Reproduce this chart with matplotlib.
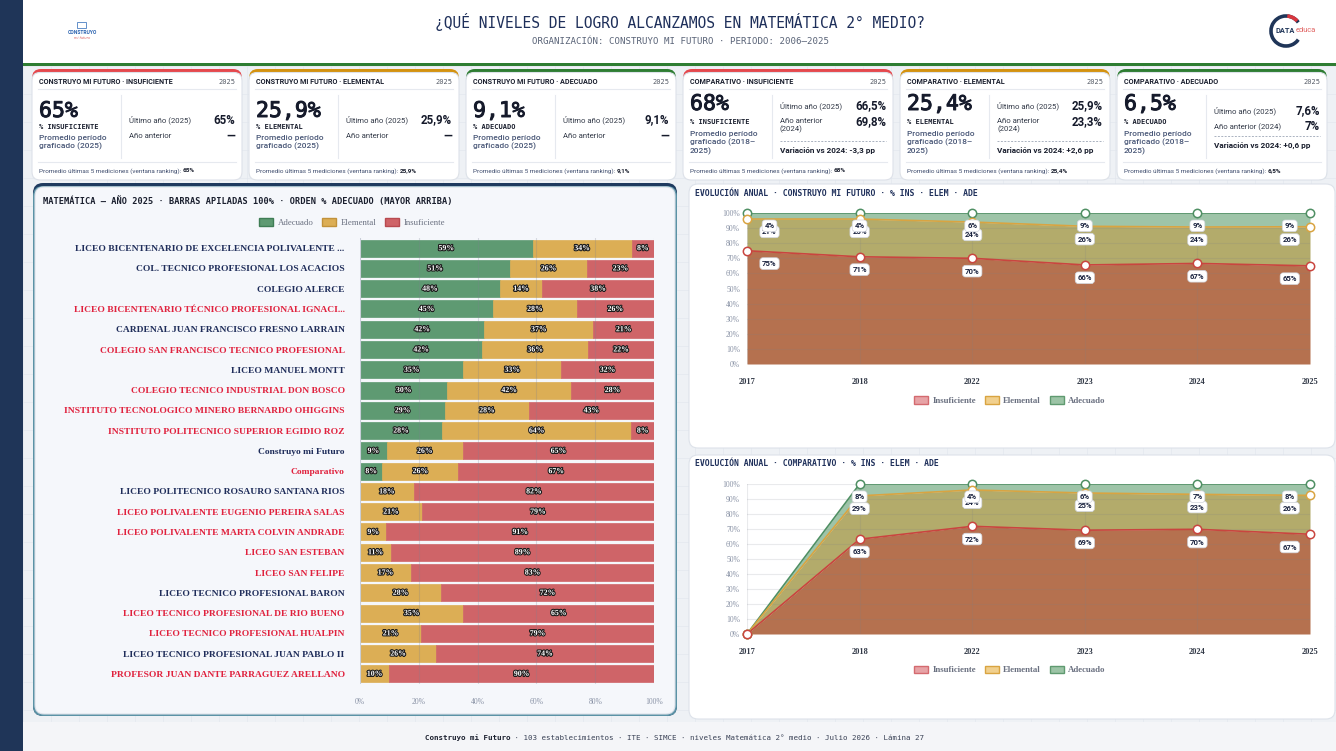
import matplotlib
matplotlib.use('Agg')
import matplotlib.pyplot as plt
from matplotlib.patches import FancyBboxPatch, Rectangle, Patch, Arc
import matplotlib.patheffects as pe
import numpy as np

W, H = 1336, 751

# ---------------- data ----------------
schools = [
    'LICEO BICENTENARIO DE EXCELENCIA POLIVALENTE ...',
    'COL. TECNICO PROFESIONAL LOS ACACIOS',
    'COLEGIO ALERCE',
    'LICEO BICENTENARIO TÉCNICO PROFESIONAL IGNACI...',
    'CARDENAL JUAN FRANCISCO FRESNO LARRAIN',
    'COLEGIO SAN FRANCISCO TECNICO PROFESIONAL',
    'LICEO MANUEL MONTT',
    'COLEGIO TECNICO INDUSTRIAL DON BOSCO',
    'INSTITUTO TECNOLOGICO MINERO BERNARDO OHIGGINS',
    'INSTITUTO POLITECNICO SUPERIOR EGIDIO ROZ',
    'Construyo mi Futuro',
    'Comparativo',
    'LICEO POLITECNICO ROSAURO SANTANA RIOS',
    'LICEO POLIVALENTE EUGENIO PEREIRA SALAS',
    'LICEO POLIVALENTE MARTA COLVIN ANDRADE',
    'LICEO SAN ESTEBAN',
    'LICEO SAN FELIPE',
    'LICEO TECNICO PROFESIONAL BARON',
    'LICEO TECNICO PROFESIONAL DE RIO BUENO',
    'LICEO TECNICO PROFESIONAL HUALPIN',
    'LICEO TECNICO PROFESIONAL JUAN PABLO II',
    'PROFESOR JUAN DANTE PARRAGUEZ ARELLANO',
]
school_red = [0, 0, 0, 1, 0, 1, 0, 1, 1, 1, 0, 1, 0, 1, 1, 1, 1, 0, 1, 1, 0, 1]
bar_ade = [58.7, 51.1, 47.6, 45.3, 42.3, 41.6, 35.2, 29.7, 29.0, 27.9, 9.1, 7.6,
           0, 0, 0, 0, 0, 0, 0, 0, 0, 0]
bar_elem = [33.7, 26.1, 14.4, 28.4, 37.1, 36.0, 33.2, 42.1, 28.4, 64.4, 25.9, 25.9,
            18.3, 21.1, 9.0, 10.6, 17.4, 27.6, 35.2, 20.8, 25.9, 9.9]
bar_ins = [7.6, 22.8, 38.0, 26.3, 20.6, 22.4, 31.6, 28.2, 42.6, 7.7, 65.0, 66.5,
           81.7, 78.9, 91.0, 89.4, 82.6, 72.4, 64.8, 79.2, 74.1, 90.1]

years = ['2017', '2018', '2022', '2023', '2024', '2025']
cmf_ins = [75.0, 71.0, 70.0, 65.6, 66.6, 65.0]
cmf_elem = [21.0, 25.0, 24.0, 25.6, 24.1, 25.9]
cmf_ade = [4.0, 4.0, 6.0, 8.8, 9.3, 9.1]
cmp_ins = [0.0, 63.2, 71.8, 69.2, 69.8, 66.5]
cmp_elem = [0.0, 28.9, 24.2, 24.8, 23.3, 25.9]
cmp_ade = [0.0, 7.9, 4.0, 6.0, 6.9, 7.6]

card_titles = ['CONSTRUYO MI FUTURO · INSUFICIENTE', 'CONSTRUYO MI FUTURO · ELEMENTAL',
               'CONSTRUYO MI FUTURO · ADECUADO', 'COMPARATIVO · INSUFICIENTE',
               'COMPARATIVO · ELEMENTAL', 'COMPARATIVO · ADECUADO']
card_big = ['65%', '25,9%', '9,1%', '68%', '25,4%', '6,5%']
card_level = ['% INSUFICIENTE', '% ELEMENTAL', '% ADECUADO'] * 2
card_last = ['65%', '25,9%', '9,1%', '66,5%', '25,9%', '7,6%']
card_prev = ['—', '—', '—', '69,8%', '23,3%', '7%']
card_var = ['', '', '', '-3,3 pp', '+2,6 pp', '+0,6 pp']
card_window = ['65%', '25,9%', '9,1%', '68%', '25,4%', '6,5%']
card_colors = ['#e5484d', '#d4920f', '#2e7d32'] * 2

C_ADE, C_ELEM, C_INS = '#5e9a72', '#dcae55', '#cf6468'
NAVY = '#1e2f5a'
SANS = ['Roboto', 'DejaVu Sans']
MONO = 'DejaVu Sans Mono'
SERIF = 'Liberation Serif'

fig = plt.figure(figsize=(W / 100, H / 100), dpi=100)
bg = fig.add_axes([0, 0, 1, 1])
bg.set_xlim(0, W)
bg.set_ylim(H, 0)
bg.axis('off')


def px_axes(x, y, w, h):
    return fig.add_axes([x / W, 1 - (y + h) / H, w / W, h / H])


def rbox(x, y, w, h, fc, ec='none', r=8, lw=0.8, z=1):
    bg.add_patch(FancyBboxPatch((x, y), w, h, boxstyle=f'round,pad=0,rounding_size={r}',
                                fc=fc, ec=ec, lw=lw, zorder=z))


def pct(v):
    return f'{int(v + 0.5)}%'


# ---------------- background / frame ----------------
bg.add_patch(Rectangle((0, 0), W, H, fc='#eef1f5', zorder=0))
for gx in range(23, W, 28):
    bg.plot([gx, gx], [66, H], color='#e3e7ee', lw=0.5, zorder=0.5)
for gy in range(66, H, 28):
    bg.plot([23, W], [gy, gy], color='#e3e7ee', lw=0.5, zorder=0.5)
bg.add_patch(Rectangle((0, 0), 23, H, fc='#1f3558', zorder=1))
bg.add_patch(Rectangle((23, 0), W - 23, 63, fc='white', zorder=1))
bg.add_patch(Rectangle((23, 63), W - 23, 2.5, fc='#2e7d32', zorder=1))
bg.add_patch(Rectangle((23, 722), W - 23, 29, fc='#f4f5f8', zorder=1))

bg.text(680, 22, '¿QUÉ NIVELES DE LOGRO ALCANZAMOS EN MATEMÁTICA 2° MEDIO?', family=MONO,
        fontsize=10.5, color=NAVY, ha='center', va='center', zorder=5)
bg.text(680, 42, 'ORGANIZACIÓN: CONSTRUYO MI FUTURO · PERIODO: 2006–2025', family=MONO,
        fontsize=6.6, color='#5a6478', ha='center', va='center', zorder=5)

# logos
bg.add_patch(Rectangle((77, 22), 9, 6, fc='none', ec='#4a7fc1', lw=0.6, zorder=5))
bg.text(82, 33, 'CONSTRUYO', family=SANS, fontsize=3.6, weight='bold', color='#2b63b0',
        ha='center', va='center', zorder=5)
bg.text(82, 38, 'mi futuro', family=SANS, fontsize=3, style='italic', color='#e07070',
        ha='center', va='center', zorder=5)
bg.add_patch(Arc((1286, 31), 30, 30, theta1=35, theta2=325, color='#1f3558', lw=2.6, zorder=5))
bg.add_patch(Arc((1286, 31), 30, 30, theta1=275, theta2=318, color='#d9363e', lw=2.6, zorder=6))
t = bg.text(1276, 31, 'DATA', family=SANS, fontsize=5.3, weight='bold', color='#1f3558',
            ha='left', va='center', zorder=6)
bg.annotate('educa', xy=(1, 0.5), xycoords=t, family=SANS, fontsize=5.3, color='#e0605f',
            ha='left', va='center', zorder=6)

# footer
t = bg.text(425, 738, 'Construyo mi Futuro', family=MONO, fontsize=5.4, weight='bold',
            color='#1a1f2e', va='center', zorder=5)
bg.annotate(' · 103 establecimientos · ITE · SIMCE · niveles Matemática 2° medio · Julio 2026 · Lámina 27',
            xy=(1, 0.5), xycoords=t, family=MONO, fontsize=5.4, color='#3a4256', va='center', zorder=5)

# ---------------- KPI cards ----------------
card_x = [32, 249, 466, 683, 900, 1117]
cw, cy, ch = 210, 69, 111
thick = [pe.withStroke(linewidth=0.7, foreground='#151a2b')]
for i in range(6):
    x0 = card_x[i]
    rbox(x0, cy, cw, ch, fc=card_colors[i], r=9, z=2)
    rbox(x0, cy + 3.5, cw, ch - 3.5, fc='white', ec='#dde2ea', r=8, z=3)
    bg.text(x0 + 7, 82, card_titles[i], family=SANS, fontsize=5.2, weight='bold',
            color='#1a1f2e', va='center', zorder=5)
    bg.text(x0 + cw - 7, 82, '2025', family=MONO, fontsize=5, color='#555b66',
            ha='right', va='center', zorder=5)
    bg.plot([x0 + 6, x0 + cw - 6], [89, 89], color='#e6e9ef', lw=0.8, zorder=4)
    bg.plot([x0 + 89, x0 + 89], [95, 158], color='#e6e9ef', lw=0.8, zorder=4)
    comp = i >= 3
    bg.text(x0 + 7, 104 if comp else 111, card_big[i], family=MONO, fontsize=15.5,
            color='#151a2b', va='center', zorder=5, path_effects=thick)
    bg.text(x0 + 7, 122 if comp else 127, card_level[i], family=MONO, fontsize=5,
            weight='bold', color='#1a1f2e', va='center', zorder=5)
    period = 'Promedio período\ngraficado (2018–\n2025)' if comp else 'Promedio período\ngraficado (2025)'
    bg.text(x0 + 7, 131 if comp else 135, period, family=SANS, fontsize=6, weight='medium',
            color='#4a5878', va='top', linespacing=1.25, zorder=5)
    rx, vx = x0 + 97, x0 + cw - 7
    if not comp:
        rows = [('Último año (2025)', card_last[i], 120), ('Año anterior', card_prev[i], 136)]
        for lab, val, yy in rows:
            bg.text(rx, yy, lab, family=SANS, fontsize=5.6, color='#333a48', va='center', zorder=5)
            bg.text(vx, yy, val, family=SANS, fontsize=8.3, weight='bold', color='#151a2b',
                    ha='right', va='center', zorder=5)
    elif i < 5:
        bg.text(rx, 106, 'Último año (2025)', family=SANS, fontsize=5.6, color='#333a48', va='center', zorder=5)
        bg.text(vx, 106, card_last[i], family=SANS, fontsize=8.3, weight='bold', color='#151a2b',
                ha='right', va='center', zorder=5)
        bg.text(rx, 118, 'Año anterior\n(2024)', family=SANS, fontsize=5.6, color='#333a48', va='top',
                linespacing=1.2, zorder=5)
        bg.text(vx, 122, card_prev[i], family=SANS, fontsize=8.3, weight='bold', color='#151a2b',
                ha='right', va='center', zorder=5)
        bg.plot([rx, vx], [141, 141], color='#aab2c0', lw=0.7, ls=(0, (2, 1.5)), zorder=4)
        bg.text(rx, 150, 'Variación vs 2024: ' + card_var[i], family=SANS, fontsize=5.9,
                weight='bold', color='#1a1f2e', va='center', zorder=5)
    else:
        bg.text(rx, 111, 'Último año (2025)', family=SANS, fontsize=5.6, color='#333a48', va='center', zorder=5)
        bg.text(vx, 111, card_last[i], family=SANS, fontsize=8.3, weight='bold', color='#151a2b',
                ha='right', va='center', zorder=5)
        bg.text(rx, 127, 'Año anterior (2024)', family=SANS, fontsize=5.6, color='#333a48', va='center', zorder=5)
        bg.text(vx, 127, card_prev[i], family=SANS, fontsize=8.3, weight='bold', color='#151a2b',
                ha='right', va='center', zorder=5)
        bg.plot([rx, vx], [136, 136], color='#aab2c0', lw=0.7, ls=(0, (2, 1.5)), zorder=4)
        bg.text(rx, 145, 'Variación vs 2024: ' + card_var[i], family=SANS, fontsize=5.9,
                weight='bold', color='#1a1f2e', va='center', zorder=5)
    bg.plot([x0 + 6, x0 + cw - 6], [162, 162], color='#e6e9ef', lw=0.8, zorder=4)
    t = bg.text(x0 + 7, 171, 'Promedio últimas 5 mediciones (ventana ranking): ', family=SANS,
                fontsize=4.6, color='#3f4d6e', va='center', zorder=5)
    bg.annotate(card_window[i], xy=(1, 0.5), xycoords=t, family=SANS, fontsize=4.6,
                weight='bold', color='#1a1f2e', va='center', zorder=5)

# ---------------- panels ----------------
rbox(33, 183, 644, 533, fc='#1e3a5f', r=10, z=2)
rbox(33, 186, 644, 530, fc='#5b93a6', r=10, z=2)
rbox(35, 187, 640, 527, fc='#f5f7fb', ec='#dde2ea', r=9, z=3)
bg.text(43, 201, 'MATEMÁTICA — AÑO 2025 · BARRAS APILADAS 100% · ORDEN % ADECUADO (MAYOR ARRIBA)',
        family=MONO, fontsize=6.2, weight='bold', color='#1a1f2e', va='center', zorder=5)

for py, ttl in [(184, 'EVOLUCIÓN ANUAL · CONSTRUYO MI FUTURO · % INS · ELEM · ADE'),
                (455, 'EVOLUCIÓN ANUAL · COMPARATIVO · % INS · ELEM · ADE')]:
    rbox(689, py, 646, 264, fc='white', ec='#dde2ea', r=9, z=3)
    bg.text(695, py + 9, ttl, family=MONO, fontsize=5.9, weight='bold', color=NAVY,
            va='center', zorder=5)

# ---------------- stacked bar chart ----------------
axb = px_axes(360, 238, 294, 446)
axb.patch.set_visible(False)
n = len(schools)
yy = np.arange(n)
left = np.zeros(n)
for vals, col in [(bar_ade, C_ADE), (bar_elem, C_ELEM), (bar_ins, C_INS)]:
    vals = np.array(vals, dtype=float)
    axb.barh(yy, vals, left=left, height=0.84, color=col, edgecolor=col, lw=0.5, zorder=2)
    for i in range(n):
        if vals[i] >= 5:
            axb.text(left[i] + vals[i] / 2, yy[i], pct(vals[i]), family=SERIF, fontsize=5.6,
                     weight='bold', color='white', ha='center', va='center', zorder=4,
                     path_effects=[pe.withStroke(linewidth=1.6, foreground='#1d1d1d')])
    left += vals
for gx in [20, 40, 60, 80, 100]:
    axb.axvline(gx, color='#7d8290', alpha=0.25, lw=0.8, zorder=3)
axb.axvline(0, color='#c9ced8', lw=0.8, zorder=3)
axb.set_xlim(0, 100)
axb.set_ylim(n - 0.5, -0.5)
axb.set_yticks(yy)
axb.set_yticklabels(schools, family=SERIF, fontsize=6.8, weight='bold')
for lab, red in zip(axb.get_yticklabels(), school_red):
    lab.set_color('#e0213d' if red else '#1f2d5a')
axb.set_xticks([0, 20, 40, 60, 80, 100])
axb.set_xticklabels([f'{v}%' for v in [0, 20, 40, 60, 80, 100]], family=SERIF, fontsize=5.5,
                    color='#8a93a6')
axb.tick_params(axis='y', length=0, pad=11)
axb.tick_params(axis='x', length=0, pad=10)
for s in axb.spines.values():
    s.set_visible(False)
leg_h = [Patch(fc=C_ADE, ec='#3f7d55', label='Adecuado'),
         Patch(fc=C_ELEM, ec='#c2923a', label='Elemental'),
         Patch(fc=C_INS, ec='#b84a50', label='Insuficiente')]
axb.legend(handles=leg_h, loc='center', bbox_to_anchor=(-0.027, 1.034), ncol=3, frameon=False,
           prop={'family': SERIF, 'size': 6.3}, labelcolor='#6a7080', handlelength=1.6,
           handleheight=1.0, columnspacing=1.0, handletextpad=0.5)


# ---------------- area charts ----------------
def area_chart(ax, ins_v, elem_v, ade_v):
    x = np.arange(len(years))
    a = np.array(ins_v)
    b = a + np.array(elem_v)
    c = b + np.array(ade_v)
    ax.fill_between(x, 0, a, color='#b5714f', lw=0, zorder=2)
    ax.fill_between(x, a, b, color='#b3ab6b', lw=0, zorder=2)
    ax.fill_between(x, b, c, color='#9ec4a8', lw=0, zorder=2)
    for gy in range(0, 101, 10):
        ax.axhline(gy, color='#7a7f8a', alpha=0.16, lw=0.8, zorder=3)
    for gx in x:
        ax.axvline(gx, color='#7a7f8a', alpha=0.16, lw=0.8, zorder=3)
    for top, col in [(c, '#4f8f63'), (b, '#d9a441'), (a, '#c9453f')]:
        ax.plot(x, top, color=col, lw=1.2, zorder=4)
        ax.plot(x, top, ls='none', marker='o', ms=6, mfc='white', mec=col, mew=1.1,
                zorder=5, clip_on=False)
    for vals, tops in [(ins_v, a), (elem_v, b), (ade_v, c)]:
        for i in x:
            if vals[i] < 0.5:
                continue
            dx = 0.2 if i == 0 else (-0.18 if i == len(x) - 1 else 0)
            ax.text(i + dx, tops[i] - 8.5, pct(vals[i]), family=SANS, fontsize=5.6, weight='bold',
                    color='#1b2440', ha='center', va='center', zorder=7,
                    bbox=dict(boxstyle='round,pad=0.3,rounding_size=0.4', fc='white',
                              ec='#d0d4dc', lw=0.5))
    ax.set_xlim(0, len(x) - 1)
    ax.set_ylim(0, 100)
    ax.set_xticks(x)
    ax.set_xticklabels(years, family=SERIF, fontsize=6, weight='bold', color='#333a48')
    ax.set_yticks(range(0, 101, 10))
    ax.set_yticklabels([f'{v}%' for v in range(0, 101, 10)], family=SERIF, fontsize=5.5,
                       color='#8a93a6')
    ax.tick_params(length=0)
    ax.tick_params(axis='x', pad=10)
    ax.tick_params(axis='y', pad=5)
    for s in ax.spines.values():
        s.set_visible(False)
    ax.patch.set_visible(False)
    hs = [Patch(fc='#e7a3a6', ec='#d46a6f', label='Insuficiente'),
          Patch(fc='#f1d08e', ec='#d9a441', label='Elemental'),
          Patch(fc='#9cc4a6', ec='#5f9a70', label='Adecuado')]
    ax.legend(handles=hs, loc='center', bbox_to_anchor=(0.467, -0.24), ncol=3, frameon=False,
              prop={'family': SERIF, 'size': 6.3, 'weight': 'bold'}, labelcolor='#6a7080',
              handlelength=1.6, handleheight=1.0, columnspacing=1.0, handletextpad=0.5)


ax1 = px_axes(747, 213, 563, 151)
area_chart(ax1, cmf_ins, cmf_elem, cmf_ade)
ax2 = px_axes(747, 484, 563, 150)
area_chart(ax2, cmp_ins, cmp_elem, cmp_ade)

fig.savefig('out.png', dpi=100)
